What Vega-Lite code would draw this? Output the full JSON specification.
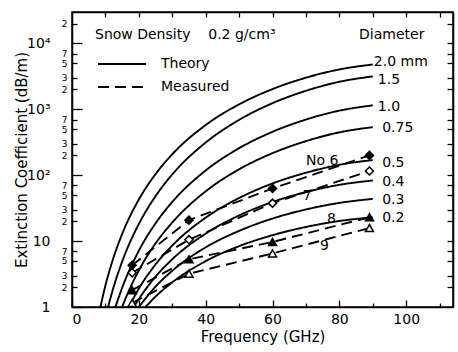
{
  "$schema": "https://vega.github.io/schema/vega-lite/v6.json",
  "width": 381,
  "height": 295,
  "autosize": "none",
  "padding": {"left": 72, "top": 12, "right": 5, "bottom": 45},
  "config": {
    "font": "DejaVu Sans",
    "view": {"stroke": "black", "strokeWidth": 1.5},
    "axis": {"domainColor": "black", "domainWidth": 1.5, "tickColor": "black", "tickWidth": 1.3, "labelColor": "black", "titleColor": "black", "grid": false, "labelFontSize": 14, "titleFontSize": 15, "titleFontWeight": "normal"},
    "legend": {"orient": "none", "legendX": 23, "legendY": 16, "titleFontSize": 14, "titleFontWeight": "normal", "titleColor": "black", "titleLimit": 400, "labelFontSize": 14, "labelColor": "black", "symbolType": "M-1,0H11", "symbolSize": 64, "symbolStrokeWidth": 2, "symbolStrokeColor": "black", "labelOffset": 52, "rowPadding": 9, "titlePadding": 15, "padding": 0}
  },
  "datasets": {
    "theory": [
      {"d": "2.0", "f": 8.5, "v": 1}, {"d": "2.0", "f": 10, "v": 2.12}, {"d": "2.0", "f": 12, "v": 4.83}, {"d": "2.0", "f": 15, "v": 12.8}, {"d": "2.0", "f": 20, "v": 42.8}, {"d": "2.0", "f": 25, "v": 104}, {"d": "2.0", "f": 30, "v": 208}, {"d": "2.0", "f": 40, "v": 578}, {"d": "2.0", "f": 50, "v": 1190}, {"d": "2.0", "f": 60, "v": 2030}, {"d": "2.0", "f": 70, "v": 3020}, {"d": "2.0", "f": 80, "v": 4030}, {"d": "2.0", "f": 90, "v": 4790},
      {"d": "1.5", "f": 10.8, "v": 1}, {"d": "1.5", "f": 12, "v": 1.68}, {"d": "1.5", "f": 15, "v": 4.88}, {"d": "1.5", "f": 20, "v": 18.2}, {"d": "1.5", "f": 25, "v": 48.1}, {"d": "1.5", "f": 30, "v": 103}, {"d": "1.5", "f": 40, "v": 313}, {"d": "1.5", "f": 50, "v": 692}, {"d": "1.5", "f": 60, "v": 1240}, {"d": "1.5", "f": 70, "v": 1910}, {"d": "1.5", "f": 80, "v": 2620}, {"d": "1.5", "f": 90, "v": 3160},
      {"d": "1.0", "f": 13, "v": 1}, {"d": "1.0", "f": 15, "v": 1.95}, {"d": "1.0", "f": 20, "v": 7.14}, {"d": "1.0", "f": 25, "v": 18.6}, {"d": "1.0", "f": 30, "v": 39.3}, {"d": "1.0", "f": 40, "v": 118}, {"d": "1.0", "f": 50, "v": 257}, {"d": "1.0", "f": 60, "v": 456}, {"d": "1.0", "f": 70, "v": 700}, {"d": "1.0", "f": 80, "v": 955}, {"d": "1.0", "f": 90, "v": 1150},
      {"d": "0.75", "f": 15, "v": 1}, {"d": "0.75", "f": 17, "v": 1.76}, {"d": "0.75", "f": 20, "v": 3.59}, {"d": "0.75", "f": 25, "v": 9.23}, {"d": "0.75", "f": 30, "v": 19.2}, {"d": "0.75", "f": 40, "v": 57}, {"d": "0.75", "f": 50, "v": 123}, {"d": "0.75", "f": 60, "v": 216}, {"d": "0.75", "f": 70, "v": 329}, {"d": "0.75", "f": 80, "v": 447}, {"d": "0.75", "f": 90, "v": 537},
      {"d": "0.5", "f": 17, "v": 1}, {"d": "0.5", "f": 20, "v": 1.9}, {"d": "0.5", "f": 25, "v": 4.43}, {"d": "0.5", "f": 30, "v": 8.57}, {"d": "0.5", "f": 40, "v": 22.7}, {"d": "0.5", "f": 50, "v": 45.1}, {"d": "0.5", "f": 60, "v": 75}, {"d": "0.5", "f": 70, "v": 109}, {"d": "0.5", "f": 80, "v": 144}, {"d": "0.5", "f": 90, "v": 170},
      {"d": "0.4", "f": 18.5, "v": 1}, {"d": "0.4", "f": 20, "v": 1.32}, {"d": "0.4", "f": 25, "v": 2.89}, {"d": "0.4", "f": 30, "v": 5.31}, {"d": "0.4", "f": 40, "v": 13}, {"d": "0.4", "f": 50, "v": 24.5}, {"d": "0.4", "f": 60, "v": 39.2}, {"d": "0.4", "f": 70, "v": 55.5}, {"d": "0.4", "f": 80, "v": 71.5}, {"d": "0.4", "f": 90, "v": 83.2},
      {"d": "0.3", "f": 20, "v": 1}, {"d": "0.3", "f": 25, "v": 2.04}, {"d": "0.3", "f": 30, "v": 3.55}, {"d": "0.3", "f": 40, "v": 8.04}, {"d": "0.3", "f": 50, "v": 14.3}, {"d": "0.3", "f": 60, "v": 22}, {"d": "0.3", "f": 70, "v": 30.2}, {"d": "0.3", "f": 80, "v": 38}, {"d": "0.3", "f": 90, "v": 43.7},
      {"d": "0.2", "f": 22, "v": 1}, {"d": "0.2", "f": 25, "v": 1.44}, {"d": "0.2", "f": 30, "v": 2.37}, {"d": "0.2", "f": 40, "v": 4.97}, {"d": "0.2", "f": 50, "v": 8.38}, {"d": "0.2", "f": 60, "v": 12.3}, {"d": "0.2", "f": 70, "v": 16.4}, {"d": "0.2", "f": 80, "v": 20.2}, {"d": "0.2", "f": 90, "v": 22.9}
    ],
    "measured": [
      {"s": "No 6", "f": 18, "v": 4.3}, {"s": "No 6", "f": 35, "v": 20.8}, {"s": "No 6", "f": 60, "v": 63}, {"s": "No 6", "f": 89, "v": 200},
      {"s": "No 7", "f": 18, "v": 3.3}, {"s": "No 7", "f": 35, "v": 10.5}, {"s": "No 7", "f": 60, "v": 37.7}, {"s": "No 7", "f": 89, "v": 116},
      {"s": "No 8", "f": 18, "v": 1.8}, {"s": "No 8", "f": 35, "v": 5.3}, {"s": "No 8", "f": 60, "v": 9.7}, {"s": "No 8", "f": 89, "v": 23},
      {"s": "No 9", "f": 18, "v": 1.15}, {"s": "No 9", "f": 35, "v": 3.2}, {"s": "No 9", "f": 60, "v": 6.5}, {"s": "No 9", "f": 89, "v": 15.8}
    ],
    "curvelabels": [
      {"t": "2.0 mm", "f": 90.3, "v": 5150}, {"t": "1.5", "f": 91.5, "v": 2800}, {"t": "1.0", "f": 91.5, "v": 1080}, {"t": "0.75", "f": 92.8, "v": 520},
      {"t": "0.5", "f": 92.8, "v": 152}, {"t": "0.4", "f": 92.8, "v": 79}, {"t": "0.3", "f": 92.8, "v": 42}, {"t": "0.2", "f": 92.8, "v": 22.5},
      {"t": "Diameter", "f": 85.9, "v": 13200}
    ],
    "serieslabels": [
      {"t": "No 6", "f": 74.9, "v": 163}, {"t": "7", "f": 70.4, "v": 48}, {"t": "8", "f": 77.6, "v": 21.5}, {"t": "9", "f": 75.5, "v": 8.4}
    ]
  },
  "layer": [
    {
      "data": {"name": "theory"},
      "mark": {"type": "line", "color": "black", "strokeWidth": 1.9, "interpolate": "monotone", "clip": true},
      "encoding": {
        "x": {"field": "f", "type": "quantitative", "scale": {"domain": [0, 114], "nice": false, "zero": false},
          "axis": {"orient": "bottom", "values": [0, 20, 40, 60, 80, 100], "tickSize": -7, "labelPadding": 12, "title": "Frequency (GHz)", "titlePadding": 3}},
        "y": {"field": "v", "type": "quantitative", "scale": {"type": "log", "domain": [1, 30000], "nice": false},
          "axis": {"orient": "left", "values": [1, 10, 100, 1000, 10000], "tickSize": -10, "labelPadding": 32, "title": "Extinction Coefficient (dB/m)", "titlePadding": -3,
            "labelExpr": "datum.value == 100 ? '10²' : datum.value == 1000 ? '10³' : datum.value == 10000 ? '10⁴' : datum.label"}},
        "detail": {"field": "d"},
        "strokeDash": {"datum": "Theory", "type": "nominal", "scale": {"domain": ["Theory", "Measured"], "range": [[1, 0], [11, 6]]}, "legend": {"title": "Snow Density\u00a0\u00a0\u00a0 0.2 g/cm³"}}
      }
    },
    {
      "data": {"name": "measured"},
      "mark": {"type": "line", "color": "black", "strokeWidth": 1.9, "clip": true},
      "encoding": {
        "x": {"field": "f", "type": "quantitative", "axis": {"orient": "top", "values": [10, 20, 30, 40, 50, 60, 70, 80, 90, 100, 110], "labels": false, "tickSize": -5, "title": null}},
        "y": {"field": "v", "type": "quantitative", "axis": {"orient": "right", "values": [2, 3, 5, 7, 10, 20, 30, 50, 70, 100, 200, 300, 500, 700, 1000, 2000, 3000, 5000, 7000, 10000, 20000], "labels": false, "tickSize": -6, "title": null}},
        "detail": {"field": "s"},
        "strokeDash": {"datum": "Measured", "type": "nominal"}
      }
    },
    {
      "data": {"name": "measured"},
      "mark": {"type": "point", "size": 65, "strokeWidth": 1.5, "stroke": "black", "opacity": 1},
      "encoding": {
        "x": {"field": "f", "type": "quantitative", "axis": {"orient": "bottom", "values": [10, 30, 50, 70, 90, 110], "labels": false, "tickSize": -4, "title": null, "domain": false}},
        "y": {"field": "v", "type": "quantitative", "axis": {"orient": "left", "values": [2, 3, 5, 7, 20, 30, 50, 70, 200, 300, 500, 700, 2000, 3000, 5000, 7000, 20000], "tickSize": -5, "labelPadding": 10, "labelFontSize": 9, "title": null, "domain": false, "labelExpr": "substring(format(datum.value, 'd'), 0, 1)"}},
        "shape": {"field": "s", "type": "nominal", "scale": {"domain": ["No 6", "No 7", "No 8", "No 9"], "range": ["diamond", "diamond", "triangle-up", "triangle-up"]}, "legend": null},
        "fill": {"field": "s", "type": "nominal", "scale": {"domain": ["No 6", "No 7", "No 8", "No 9"], "range": ["black", "white", "black", "white"]}, "legend": null}
      }
    },
    {
      "data": {"name": "curvelabels"},
      "mark": {"type": "text", "align": "left", "baseline": "middle", "fontSize": 14, "color": "black"},
      "encoding": {
        "x": {"field": "f", "type": "quantitative", "axis": null},
        "y": {"field": "v", "type": "quantitative", "axis": null},
        "text": {"field": "t"}
      }
    },
    {
      "data": {"name": "serieslabels"},
      "mark": {"type": "text", "align": "center", "baseline": "middle", "fontSize": 14, "color": "black"},
      "encoding": {
        "x": {"field": "f", "type": "quantitative", "axis": null},
        "y": {"field": "v", "type": "quantitative", "axis": null},
        "text": {"field": "t"}
      }
    }
  ],
  "resolve": {"axis": {"x": "independent", "y": "independent"}}
}
